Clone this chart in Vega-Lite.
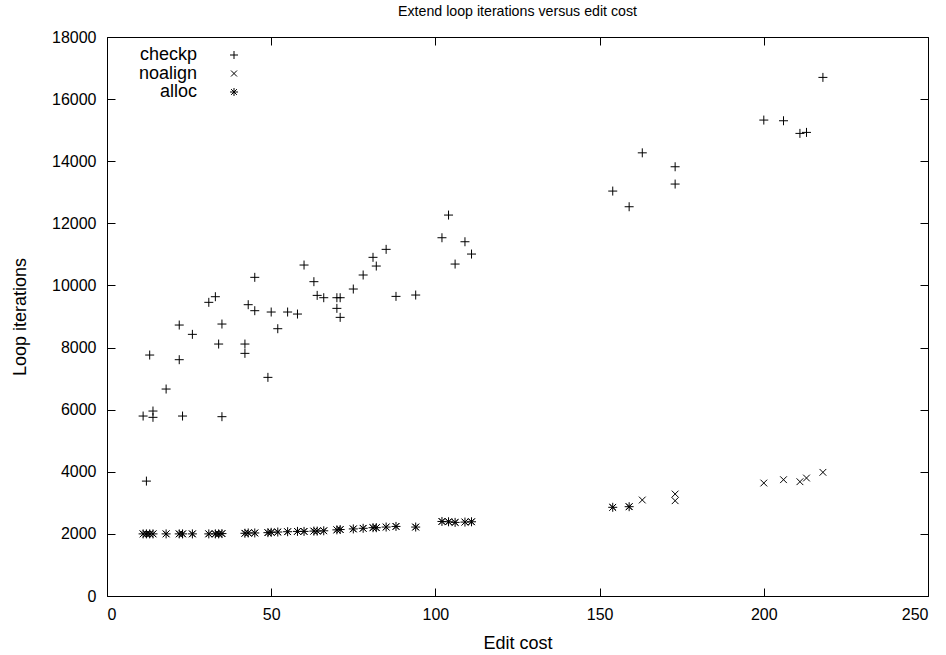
{
  "$schema": "https://vega.github.io/schema/vega-lite/v6.json",
  "width": 821,
  "height": 559,
  "autosize": "none",
  "padding": {"left": 107, "top": 37, "right": 18, "bottom": 59},
  "background": "white",
  "config": {
    "font": "Liberation Sans",
    "view": {"stroke": "black", "strokeWidth": 1, "fill": null},
    "axis": {"domain": false, "ticks": false, "labelColor": "black", "titleColor": "black", "labelFont": "Liberation Sans", "titleFont": "Liberation Sans", "labelFontSize": 16, "titleFontSize": 18, "titleFontWeight": "normal"}
  },
  "title": {"text": "Extend loop iterations versus edit cost", "fontSize": 14.2, "fontWeight": "normal", "font": "Liberation Sans", "offset": 10, "color": "black"},
  "data": {"values": [
    {"cost": 11, "iter": 5795, "series": "checkp"},
    {"cost": 12, "iter": 3700, "series": "checkp"},
    {"cost": 13, "iter": 7759, "series": "checkp"},
    {"cost": 14, "iter": 5956, "series": "checkp"},
    {"cost": 14, "iter": 5753, "series": "checkp"},
    {"cost": 18, "iter": 6664, "series": "checkp"},
    {"cost": 22, "iter": 7609, "series": "checkp"},
    {"cost": 22, "iter": 8725, "series": "checkp"},
    {"cost": 23, "iter": 5795, "series": "checkp"},
    {"cost": 26, "iter": 8425, "series": "checkp"},
    {"cost": 31, "iter": 9456, "series": "checkp"},
    {"cost": 33, "iter": 9637, "series": "checkp"},
    {"cost": 34, "iter": 8113, "series": "checkp"},
    {"cost": 35, "iter": 8757, "series": "checkp"},
    {"cost": 35, "iter": 5774, "series": "checkp"},
    {"cost": 42, "iter": 8113, "series": "checkp"},
    {"cost": 42, "iter": 7813, "series": "checkp"},
    {"cost": 43, "iter": 9380, "series": "checkp"},
    {"cost": 45, "iter": 10261, "series": "checkp"},
    {"cost": 45, "iter": 9187, "series": "checkp"},
    {"cost": 49, "iter": 7040, "series": "checkp"},
    {"cost": 50, "iter": 9144, "series": "checkp"},
    {"cost": 52, "iter": 8607, "series": "checkp"},
    {"cost": 55, "iter": 9144, "series": "checkp"},
    {"cost": 58, "iter": 9079, "series": "checkp"},
    {"cost": 60, "iter": 10657, "series": "checkp"},
    {"cost": 63, "iter": 10121, "series": "checkp"},
    {"cost": 64, "iter": 9680, "series": "checkp"},
    {"cost": 66, "iter": 9605, "series": "checkp"},
    {"cost": 70, "iter": 9605, "series": "checkp"},
    {"cost": 71, "iter": 9605, "series": "checkp"},
    {"cost": 70, "iter": 9262, "series": "checkp"},
    {"cost": 71, "iter": 8972, "series": "checkp"},
    {"cost": 75, "iter": 9885, "series": "checkp"},
    {"cost": 78, "iter": 10336, "series": "checkp"},
    {"cost": 81, "iter": 10905, "series": "checkp"},
    {"cost": 82, "iter": 10625, "series": "checkp"},
    {"cost": 85, "iter": 11162, "series": "checkp"},
    {"cost": 88, "iter": 9648, "series": "checkp"},
    {"cost": 94, "iter": 9691, "series": "checkp"},
    {"cost": 102, "iter": 11536, "series": "checkp"},
    {"cost": 104, "iter": 12266, "series": "checkp"},
    {"cost": 106, "iter": 10689, "series": "checkp"},
    {"cost": 109, "iter": 11407, "series": "checkp"},
    {"cost": 111, "iter": 11011, "series": "checkp"},
    {"cost": 154, "iter": 13039, "series": "checkp"},
    {"cost": 159, "iter": 12534, "series": "checkp"},
    {"cost": 163, "iter": 14270, "series": "checkp"},
    {"cost": 173, "iter": 13822, "series": "checkp"},
    {"cost": 173, "iter": 13265, "series": "checkp"},
    {"cost": 200, "iter": 15325, "series": "checkp"},
    {"cost": 206, "iter": 15303, "series": "checkp"},
    {"cost": 211, "iter": 14896, "series": "checkp"},
    {"cost": 213, "iter": 14928, "series": "checkp"},
    {"cost": 218, "iter": 16699, "series": "checkp"},

    {"cost": 11, "iter": 2000, "series": "noalign"},
    {"cost": 12, "iter": 2000, "series": "noalign"},
    {"cost": 13, "iter": 2000, "series": "noalign"},
    {"cost": 14, "iter": 2000, "series": "noalign"},
    {"cost": 18, "iter": 2000, "series": "noalign"},
    {"cost": 22, "iter": 2000, "series": "noalign"},
    {"cost": 23, "iter": 2000, "series": "noalign"},
    {"cost": 26, "iter": 2000, "series": "noalign"},
    {"cost": 31, "iter": 2000, "series": "noalign"},
    {"cost": 33, "iter": 2000, "series": "noalign"},
    {"cost": 34, "iter": 2000, "series": "noalign"},
    {"cost": 35, "iter": 2010, "series": "noalign"},
    {"cost": 42, "iter": 2020, "series": "noalign"},
    {"cost": 43, "iter": 2030, "series": "noalign"},
    {"cost": 45, "iter": 2030, "series": "noalign"},
    {"cost": 49, "iter": 2040, "series": "noalign"},
    {"cost": 50, "iter": 2050, "series": "noalign"},
    {"cost": 52, "iter": 2060, "series": "noalign"},
    {"cost": 55, "iter": 2070, "series": "noalign"},
    {"cost": 58, "iter": 2080, "series": "noalign"},
    {"cost": 60, "iter": 2080, "series": "noalign"},
    {"cost": 63, "iter": 2090, "series": "noalign"},
    {"cost": 64, "iter": 2090, "series": "noalign"},
    {"cost": 66, "iter": 2100, "series": "noalign"},
    {"cost": 70, "iter": 2130, "series": "noalign"},
    {"cost": 71, "iter": 2140, "series": "noalign"},
    {"cost": 75, "iter": 2160, "series": "noalign"},
    {"cost": 78, "iter": 2180, "series": "noalign"},
    {"cost": 81, "iter": 2200, "series": "noalign"},
    {"cost": 82, "iter": 2200, "series": "noalign"},
    {"cost": 85, "iter": 2220, "series": "noalign"},
    {"cost": 88, "iter": 2240, "series": "noalign"},
    {"cost": 94, "iter": 2220, "series": "noalign"},
    {"cost": 102, "iter": 2400, "series": "noalign"},
    {"cost": 104, "iter": 2390, "series": "noalign"},
    {"cost": 106, "iter": 2370, "series": "noalign"},
    {"cost": 109, "iter": 2380, "series": "noalign"},
    {"cost": 111, "iter": 2390, "series": "noalign"},
    {"cost": 154, "iter": 2856, "series": "noalign"},
    {"cost": 159, "iter": 2876, "series": "noalign"},
    {"cost": 163, "iter": 3091, "series": "noalign"},
    {"cost": 173, "iter": 3284, "series": "noalign"},
    {"cost": 173, "iter": 3068, "series": "noalign"},
    {"cost": 200, "iter": 3638, "series": "noalign"},
    {"cost": 206, "iter": 3745, "series": "noalign"},
    {"cost": 211, "iter": 3680, "series": "noalign"},
    {"cost": 213, "iter": 3799, "series": "noalign"},
    {"cost": 218, "iter": 3982, "series": "noalign"},

    {"cost": 11, "iter": 2000, "series": "alloc"},
    {"cost": 12, "iter": 2000, "series": "alloc"},
    {"cost": 13, "iter": 2000, "series": "alloc"},
    {"cost": 14, "iter": 2000, "series": "alloc"},
    {"cost": 18, "iter": 2000, "series": "alloc"},
    {"cost": 22, "iter": 2000, "series": "alloc"},
    {"cost": 23, "iter": 2000, "series": "alloc"},
    {"cost": 26, "iter": 2000, "series": "alloc"},
    {"cost": 31, "iter": 2000, "series": "alloc"},
    {"cost": 33, "iter": 2000, "series": "alloc"},
    {"cost": 34, "iter": 2000, "series": "alloc"},
    {"cost": 35, "iter": 2010, "series": "alloc"},
    {"cost": 42, "iter": 2020, "series": "alloc"},
    {"cost": 43, "iter": 2030, "series": "alloc"},
    {"cost": 45, "iter": 2030, "series": "alloc"},
    {"cost": 49, "iter": 2040, "series": "alloc"},
    {"cost": 50, "iter": 2050, "series": "alloc"},
    {"cost": 52, "iter": 2060, "series": "alloc"},
    {"cost": 55, "iter": 2070, "series": "alloc"},
    {"cost": 58, "iter": 2080, "series": "alloc"},
    {"cost": 60, "iter": 2080, "series": "alloc"},
    {"cost": 63, "iter": 2090, "series": "alloc"},
    {"cost": 64, "iter": 2090, "series": "alloc"},
    {"cost": 66, "iter": 2100, "series": "alloc"},
    {"cost": 70, "iter": 2130, "series": "alloc"},
    {"cost": 71, "iter": 2140, "series": "alloc"},
    {"cost": 75, "iter": 2160, "series": "alloc"},
    {"cost": 78, "iter": 2180, "series": "alloc"},
    {"cost": 81, "iter": 2200, "series": "alloc"},
    {"cost": 82, "iter": 2200, "series": "alloc"},
    {"cost": 85, "iter": 2220, "series": "alloc"},
    {"cost": 88, "iter": 2240, "series": "alloc"},
    {"cost": 94, "iter": 2220, "series": "alloc"},
    {"cost": 102, "iter": 2400, "series": "alloc"},
    {"cost": 104, "iter": 2390, "series": "alloc"},
    {"cost": 106, "iter": 2370, "series": "alloc"},
    {"cost": 109, "iter": 2380, "series": "alloc"},
    {"cost": 111, "iter": 2390, "series": "alloc"},
    {"cost": 154, "iter": 2856, "series": "alloc"},
    {"cost": 159, "iter": 2876, "series": "alloc"}
  ]},
  "mark": {"type": "point", "filled": false, "strokeWidth": 1, "opacity": 1, "size": 81},
  "encoding": {
    "x": {"field": "cost", "type": "quantitative", "scale": {"domain": [0, 250], "nice": false},
          "axis": {"values": [0, 50, 100, 150, 200, 250], "title": "Edit cost", "labelPadding": 10, "titlePadding": 12, "grid": true, "gridColor": "black", "gridOpacity": 1, "gridWidth": 1, "gridDash": [8, 543]}},
    "y": {"field": "iter", "type": "quantitative", "scale": {"domain": [0, 18000], "nice": false, "zero": true},
          "axis": {"values": [0, 2000, 4000, 6000, 8000, 10000, 12000, 14000, 16000, 18000], "format": "d", "title": "Loop iterations", "labelPadding": 11, "titlePadding": 22, "grid": true, "gridColor": "black", "gridOpacity": 1, "gridWidth": 1, "gridDash": [8, 805]}},
    "shape": {"field": "series", "type": "nominal",
      "scale": {"domain": ["checkp", "noalign", "alloc"],
                "range": ["M-1,0L1,0M0,-1L0,1", "M-0.75,-0.75L0.75,0.75M-0.75,0.75L0.75,-0.75", "M-1,0L1,0M0,-1L0,1M-0.72,-0.72L0.72,0.72M-0.72,0.72L0.72,-0.72"]},
      "legend": {"title": null, "orient": "none", "legendX": 0, "legendY": 9, "labelAlign": "right", "labelOffset": -46, "symbolOffset": 118, "labelFontSize": 18, "labelFont": "Liberation Sans", "labelColor": "black", "symbolStrokeColor": "black", "symbolStrokeWidth": 1, "symbolSize": 64, "rowPadding": 0.5}},
    "color": {"value": "black"}
  }
}
